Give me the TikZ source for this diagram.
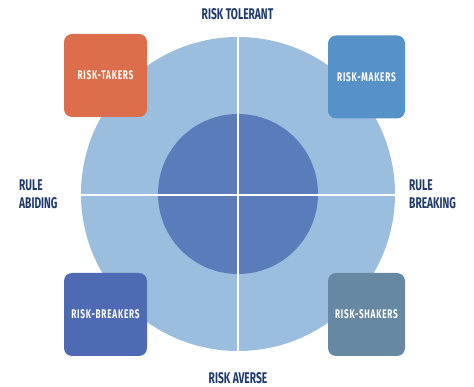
\documentclass[tikz,border=0pt]{standalone}
\usepackage{fontspec}
\newfontfamily\headfont[FakeStretch=0.66]{Fira Sans}
\usepackage{tikz}
\definecolor{outerblue}{HTML}{9BBDDE}
\definecolor{innerblue}{HTML}{5B7CBB}
\definecolor{takerscol}{HTML}{DD6E4C}
\definecolor{makerscol}{HTML}{5692C8}
\definecolor{breakerscol}{HTML}{4D6AB3}
\definecolor{shakerscol}{HTML}{6688A3}
\definecolor{navy}{HTML}{1E3A6B}
\tikzset{
	axislabel/.style={text=navy, font=\headfont\bfseries\fontsize{15.5}{16}\selectfont, inner sep=0pt},
	quadbox/.style={rounded corners=8pt, minimum height=83pt, text=white, inner sep=0pt,
		font=\headfont\bfseries\addfontfeatures{LetterSpace=6}\fontsize{12.5}{13}\selectfont}
}

\begin{document}
\begin{tikzpicture}[x=1pt, y=-1pt]
		%%%%% START %%%%%
		\useasboundingbox (0, 0) rectangle (474, 387);
		
		\fill[color=outerblue] (238, 194) circle (157);
		\fill[color=innerblue] (238, 194) circle (80);
		\draw[line width=1.7pt, color=white] (238, 36) -- (238, 352);
		\draw[line width=1.7pt, color=white] (80, 195) -- (396, 195);
		
		\node[quadbox, fill=takerscol, minimum width=83pt] (takers) at (105.5, 75.5) {RISK-TAKERS};
		\node[quadbox, fill=makerscol, minimum width=77pt] (makers) at (366.5, 77) {RISK-MAKERS};
		\node[quadbox, fill=breakerscol, minimum width=83pt] (breakers) at (105.5, 314.5) {RISK-BREAKERS};
		\node[quadbox, fill=shakerscol, minimum width=77pt] (shakers) at (366.5, 314.5) {RISK-SHAKERS};
		
		\node[axislabel] (tolerant) at (237.5, 14) {RISK TOLERANT};
		\node[axislabel] (averse) at (238, 378) {RISK AVERSE};
		\node[axislabel, anchor=west, align=left] (abiding) at (19, 194) {RULE\\[2pt]ABIDING};
		\node[axislabel, anchor=west, align=left] (breaking) at (409, 194) {RULE\\[2pt]BREAKING};
		%%%%% END %%%%%
	\end{tikzpicture}
\end{document}
